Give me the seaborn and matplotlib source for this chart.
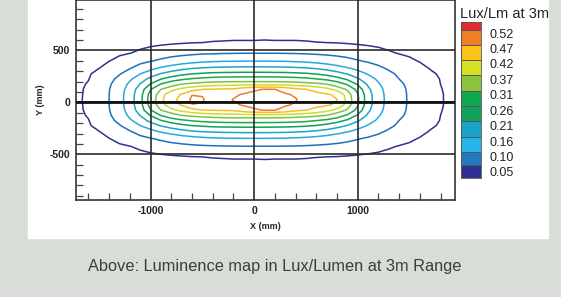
import numpy as np
import matplotlib
matplotlib.use("Agg")
import matplotlib.pyplot as plt
from matplotlib.colors import ListedColormap
import seaborn as sns

# luminance map, in milli lux per lumen at 3 m
x_mm = [-1700, -1600, -1500, -1400, -1300, -1200, -1100, -1000, -900, -800,
        -700, -600, -500, -400, -300, -200, -100, 0, 100, 200,
        300, 400, 500, 600, 700, 800, 900, 1000, 1100, 1200,
        1300, 1400, 1500, 1600, 1700, 1800, 1900]
y_mm = [-650, -525, -425, -350, -275, -225, -175, -125, -75, -25, 25,
        75, 125, 175, 225, 275, 325, 400, 475, 575, 700]
lux_milli = [
    [3, 6, 10, 12, 15, 18, 20, 22, 24, 25, 26, 27, 28, 29, 29, 30, 30, 30, 30, 30, 30, 30, 29, 29, 28, 27, 26, 25, 23, 22, 20, 17, 15, 12, 9, 6, 3],
    [18, 22, 26, 29, 33, 36, 39, 41, 43, 45, 47, 49, 50, 52, 53, 54, 54, 54, 55, 54, 54, 54, 53, 51, 50, 49, 47, 45, 43, 41, 38, 35, 32, 29, 25, 22, 18],
    [28, 33, 37, 41, 45, 49, 56, 64, 71, 78, 83, 88, 92, 94, 96, 97, 98, 98, 98, 98, 97, 96, 94, 91, 88, 84, 79, 73, 67, 61, 54, 48, 45, 41, 37, 32, 28],
    [34, 39, 44, 49, 59, 71, 84, 96, 109, 122, 133, 141, 148, 152, 155, 156, 157, 157, 157, 156, 155, 152, 148, 142, 134, 125, 115, 103, 93, 84, 74, 65, 55, 48, 44, 39, 34],
    [39, 44, 50, 64, 81, 99, 124, 149, 170, 186, 200, 211, 217, 221, 223, 224, 225, 225, 225, 224, 223, 220, 216, 209, 198, 183, 167, 149, 130, 111, 95, 82, 70, 59, 49, 44, 39],
    [42, 47, 58, 76, 96, 126, 159, 186, 212, 231, 247, 259, 265, 270, 272, 273, 274, 274, 274, 273, 272, 269, 265, 257, 245, 228, 207, 182, 156, 132, 110, 92, 78, 66, 54, 47, 41],
    [44, 49, 65, 86, 113, 152, 188, 223, 258, 282, 300, 314, 322, 328, 332, 333, 334, 334, 334, 333, 331, 327, 321, 311, 297, 278, 252, 216, 182, 151, 124, 100, 85, 71, 59, 49, 43],
    [45, 52, 71, 93, 128, 171, 212, 263, 312, 345, 371, 383, 392, 398, 402, 404, 404, 404, 404, 404, 402, 398, 392, 383, 370, 340, 303, 255, 203, 165, 135, 109, 90, 75, 62, 50, 44],
    [46, 54, 74, 98, 138, 182, 232, 307, 370, 405, 433, 453, 469, 472, 475, 478, 498, 515, 522, 521, 505, 482, 471, 456, 435, 406, 363, 291, 220, 175, 141, 114, 93, 78, 64, 51, 45],
    [46, 55, 76, 100, 142, 186, 241, 330, 400, 452, 473, 518, 516, 489, 498, 513, 524, 529, 531, 530, 525, 515, 495, 483, 475, 463, 399, 315, 229, 179, 144, 116, 94, 79, 65, 52, 45],
    [46, 56, 76, 100, 143, 187, 243, 335, 407, 464, 476, 531, 526, 493, 506, 522, 529, 537, 544, 538, 530, 523, 503, 487, 478, 471, 408, 319, 231, 180, 145, 117, 94, 79, 65, 52, 45],
    [46, 55, 76, 100, 142, 186, 241, 330, 400, 452, 473, 518, 516, 489, 498, 513, 524, 529, 531, 530, 525, 515, 495, 483, 475, 463, 399, 315, 229, 179, 144, 116, 94, 79, 65, 52, 45],
    [46, 54, 74, 98, 138, 182, 232, 307, 370, 405, 433, 453, 469, 472, 475, 478, 498, 515, 522, 521, 505, 482, 471, 456, 435, 406, 363, 291, 220, 175, 141, 114, 93, 78, 64, 51, 45],
    [45, 52, 71, 93, 128, 171, 212, 263, 312, 345, 371, 383, 392, 398, 402, 404, 404, 404, 404, 404, 402, 398, 392, 383, 370, 340, 303, 255, 203, 165, 135, 109, 90, 75, 62, 50, 44],
    [44, 49, 65, 86, 113, 152, 188, 223, 258, 282, 300, 314, 322, 328, 332, 333, 334, 334, 334, 333, 331, 327, 321, 311, 297, 278, 252, 216, 182, 151, 124, 100, 85, 71, 59, 49, 43],
    [42, 47, 58, 76, 96, 126, 159, 186, 212, 231, 247, 259, 265, 270, 272, 273, 274, 274, 274, 273, 272, 269, 265, 257, 245, 228, 207, 182, 156, 132, 110, 92, 78, 66, 54, 47, 41],
    [39, 44, 50, 64, 81, 99, 124, 149, 170, 186, 200, 211, 217, 221, 223, 224, 225, 225, 225, 224, 223, 220, 216, 209, 198, 183, 167, 149, 130, 111, 95, 82, 70, 59, 49, 44, 39],
    [34, 39, 44, 49, 59, 71, 84, 96, 109, 122, 133, 141, 148, 152, 155, 156, 157, 157, 157, 156, 155, 152, 148, 142, 134, 125, 115, 103, 93, 84, 74, 65, 55, 48, 44, 39, 34],
    [28, 33, 37, 41, 45, 49, 56, 64, 71, 78, 83, 88, 92, 94, 96, 97, 98, 98, 98, 98, 97, 96, 94, 91, 88, 84, 79, 73, 67, 61, 54, 48, 45, 41, 37, 32, 28],
    [18, 22, 26, 29, 33, 36, 39, 41, 43, 45, 47, 49, 50, 52, 53, 54, 54, 54, 55, 54, 54, 54, 53, 51, 50, 49, 47, 45, 43, 41, 38, 35, 32, 29, 25, 22, 18],
    [3, 6, 10, 12, 15, 18, 20, 22, 24, 25, 26, 27, 28, 29, 29, 30, 30, 30, 30, 30, 30, 30, 29, 29, 28, 27, 26, 25, 23, 22, 20, 17, 15, 12, 9, 6, 3],
]

levels = [0.05, 0.10, 0.16, 0.21, 0.26, 0.31, 0.37, 0.42, 0.47, 0.52]
key_labels = ["0.52", "0.47", "0.42", "0.37", "0.31", "0.26", "0.21", "0.16", "0.10", "0.05"]

line_colors = sns.color_palette(["#2e3191", "#1f6fb8", "#29a8e0", "#1aa5c8", "#0f9f58",
                                 "#1aa84a", "#7dc243", "#cfdc2a", "#f9bb22", "#ef7a2a"])
key_colors = ["#e32a2c", "#f07e26", "#fdc11c", "#d7df23", "#8bc53f", "#10a84e",
              "#0fa35c", "#1aa2c8", "#27b2ea", "#2379c0", "#2e3191"]

sns.set_theme(style="white")
plt.rcParams["font.family"] = ["Liberation Sans", "DejaVu Sans"]
plt.rcParams["axes.unicode_minus"] = False

W, H = 561, 297
fig = plt.figure(figsize=(W / 100, H / 100), dpi=100)
fig.patch.set_facecolor("#d8ddd7")
fig.patches.append(plt.Rectangle((28 / W, 1 - 238 / H), 520 / W, 238 / H,
                                 transform=fig.transFigure, color="white", zorder=-5))

ax = fig.add_axes([76 / W, 1 - 200 / H, 379 / W, 200 / H])
Z = np.array(lux_milli) / 1000
ax.contour(x_mm, y_mm, Z, levels=levels, colors=line_colors, linewidths=1.1, zorder=1)
ax.set_xlim(-1720, 1940)
ax.set_ylim(-940, 985)
ax.set_xticks([-1000, 0, 1000])
ax.set_yticks([-500, 0, 500])
ax.set_xticks(range(-1600, 1900, 200), minor=True)
ax.set_yticks(range(-900, 1000, 100), minor=True)
ax.tick_params(which="both", direction="in", length=0, labelsize=7.5, pad=4)
ax.tick_params(which="minor", length=5, width=0.9, color="#444444",
               left=True, bottom=True)
for lab in ax.get_xticklabels() + ax.get_yticklabels():
    lab.set_fontweight("bold")
    lab.set_color("#222222")
ax.set_axisbelow(False)
ax.grid(which="major", color="#2b2b2b", lw=1.2)
ax.axhline(0, color="#111111", lw=2, zorder=3)
for s in ax.spines.values():
    s.set_color("#333333")
    s.set_linewidth(1.2)
ax.set_xlabel("X (mm)", fontsize=6.5, fontweight="bold")
ax.set_ylabel("Y (mm)", fontsize=6.5, fontweight="bold")
ax.xaxis.set_label_coords(0.5, -0.11)
ax.yaxis.set_label_coords(-0.082, 0.5)

# colour key
cax = fig.add_axes([461 / W, 1 - 178 / H, 20 / W, 156 / H])
edges = [22, 30, 45, 60, 75, 91, 106, 121, 137, 152, 165, 178]
cax.pcolormesh([0, 1], edges, np.arange(len(key_colors)).reshape(-1, 1),
               cmap=ListedColormap(key_colors), edgecolors="#555555", linewidth=0.6)
cax.set_ylim(178, 22)
cax.set_xlim(0, 1)
cax.set_xticks([])
cax.set_yticks([33 + 15.44 * i for i in range(len(key_labels))])
cax.set_yticklabels(key_labels)
cax.yaxis.tick_right()
cax.tick_params(axis="y", length=0, labelsize=9, pad=6, labelcolor="#222222")
for s in cax.spines.values():
    s.set_color("#555555")
    s.set_linewidth(0.6)
fig.text(460 / W, 1 - 14 / H, "Lux/Lm at 3m", fontsize=10.5, va="center", color="#222222")

fig.text(0.49, 1 - 267 / H, "Above: Luminence map in Lux/Lumen at 3m Range",
         ha="center", va="center", fontsize=11.8, color="#3d3d3d")

fig.savefig("out.png", dpi=100, facecolor=fig.get_facecolor())
